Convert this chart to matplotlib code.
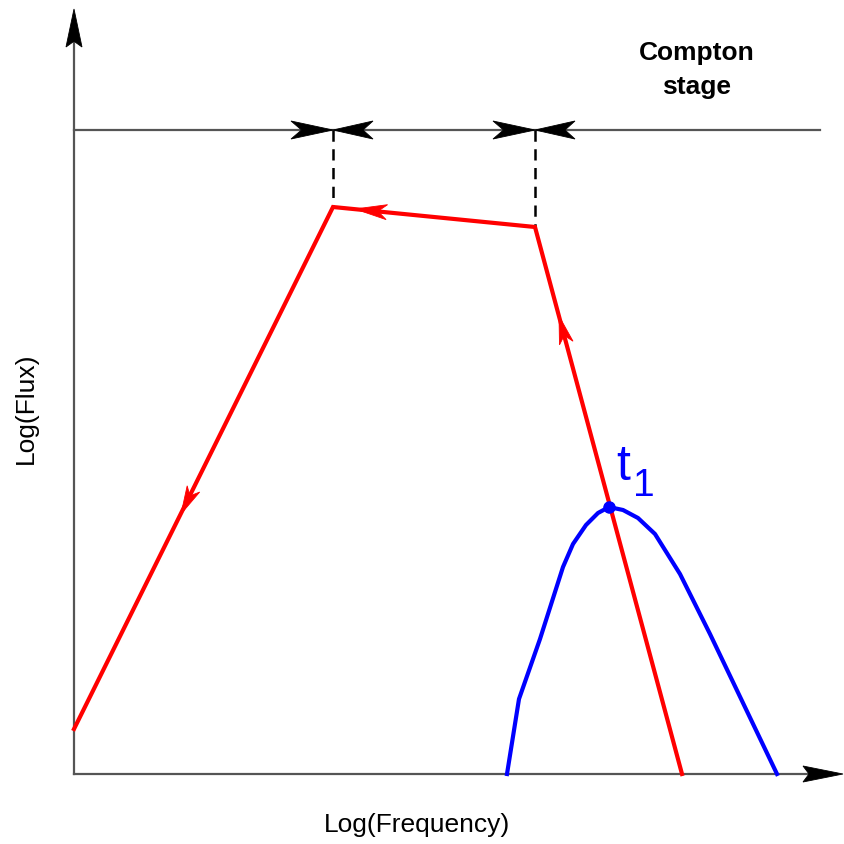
import numpy as np
import matplotlib.pyplot as plt
from matplotlib.patches import Polygon

plt.rcParams['font.family'] = ['Liberation Sans', 'DejaVu Sans']

# synchrotron-like spectrum path (log nu, log F)
red_x = [0, 259, 461, 608]
red_y = [45, 567, 547, 0]

# spectrum at time t1
blue_x = [433, 445, 466, 489, 499, 512, 524, 535, 549, 564, 581, 606, 636, 703]
blue_y = [0, 75, 135, 207, 230, 249, 261, 267, 264, 256, 240, 200, 140, 0]
t1 = (535, 267)

# stage marker line and break frequencies
stage_y = 644
stage_end = 746
breaks = [259, 461]
break_flux = [567, 547]

x_end = 769
y_end = 765


def head(ax, tip, direction, length, width, color, notch=0.72, z=5):
    d = np.asarray(direction, float)
    d = d / np.hypot(*d)
    n = np.array([-d[1], d[0]])
    tip = np.asarray(tip, float)
    back = tip - length * d
    pts = [tip, back + n * width / 2, tip - notch * length * d, back - n * width / 2]
    ax.add_patch(Polygon(pts, closed=True, fc=color, ec=color, lw=0.6, zorder=z))


fig = plt.figure(figsize=(8.45, 8.45), dpi=100)
ax = fig.add_axes([0, 0, 1, 1])
ax.set_xlim(-74, 771)
ax.set_ylim(-70, 775)
ax.axis('off')

axis_col = '#555555'
# axes
ax.plot([0, x_end - 20], [0, 0], color=axis_col, lw=1.6, zorder=2)
ax.plot([0, 0], [0, y_end - 20], color=axis_col, lw=1.6, zorder=2)
head(ax, (x_end, 0), (1, 0), 40, 16, 'black', notch=0.85)
head(ax, (0, y_end), (0, 1), 38, 16, 'black', notch=0.85)

# stage line with arrows meeting at the breaks
ax.plot([0, stage_end], [stage_y, stage_y], color=axis_col, lw=1.6, zorder=2)
for b in breaks:
    head(ax, (b, stage_y), (1, 0), 42, 18, 'black', notch=0.75)
    head(ax, (b, stage_y), (-1, 0), 40, 18, 'black', notch=0.75)

for b, f in zip(breaks, break_flux):
    ax.plot([b, b], [stage_y, f], color='black', lw=1.8, ls=(0, (4.5, 3)), zorder=2)

# spectra
ax.plot(blue_x, blue_y, color='#0000ff', lw=3, zorder=3)
ax.plot(red_x, red_y, color='#ff0000', lw=3, zorder=4, solid_joinstyle='miter')
ax.plot(*t1, 'o', color='#0000ff', ms=8, zorder=6)

# direction of evolution along the red path
rx = np.array(red_x, float)
ry = np.array(red_y, float)
head(ax, (485, 458), (rx[2] - rx[3], ry[2] - ry[3]), 28, 14, '#ff0000')
head(ax, (281, 565), (rx[1] - rx[2], ry[1] - ry[2]), 32, 15, '#ff0000')
head(ax, (107, 260), (rx[0] - rx[1], ry[0] - ry[1]), 28, 14, '#ff0000')

ax.text(542, 295, 't', color='#0000ff', fontsize=36, ha='left', va='baseline')
ax.text(559, 279, '1', color='#0000ff', fontsize=28, ha='left', va='baseline')

ax.text(623, 705, 'Compton\nstage', fontsize=19, fontweight='bold',
        ha='center', va='center', linespacing=1.55)
ax.text(343, -50, 'Log(Frequency)', fontsize=19, ha='center', va='center')
ax.text(-48, 367, 'Log(Flux)', fontsize=19, rotation=90, ha='center', va='center')

fig.savefig('out.png', dpi=100)
